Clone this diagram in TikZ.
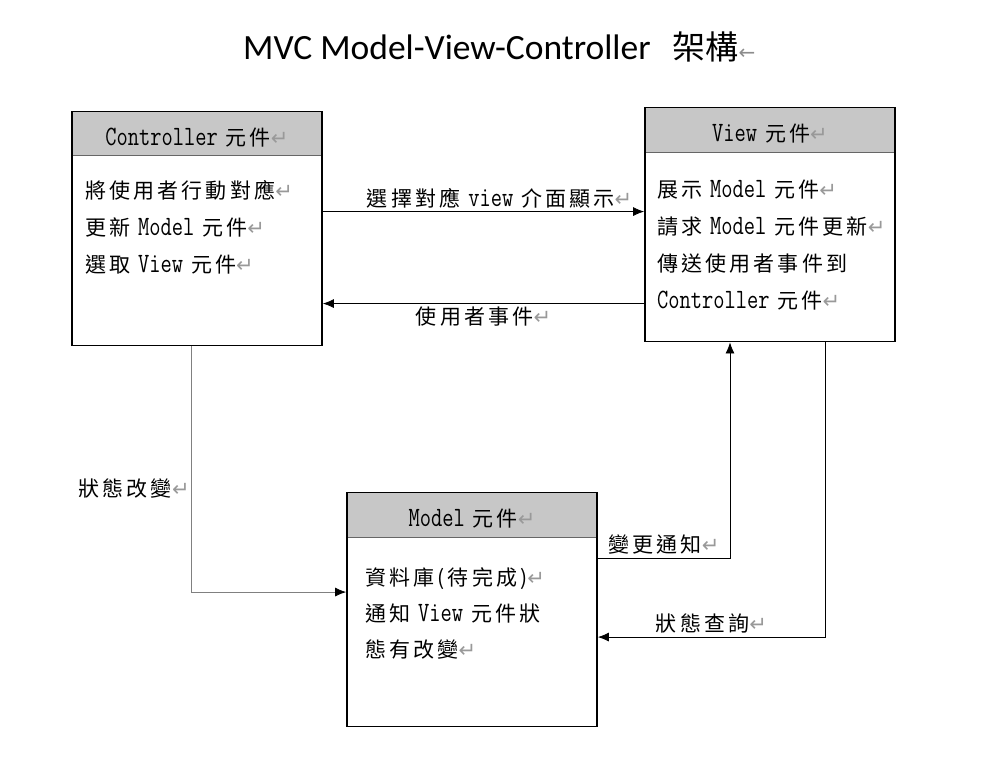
\documentclass[tikz,border=0pt]{standalone}
\usepackage{fontspec}
\setmainfont{Noto Sans CJK TC}[LetterSpace=15]
\newfontfamily\enfont{Latin Modern Mono}[FakeStretch=0.78]
\newfontfamily\symfont{DejaVu Sans}
\newfontfamily\titlefont{Carlito}
\newfontfamily\titlecjk{Noto Sans CJK TC}
\usetikzlibrary{arrows.meta,positioning}
\newcommand\en[1]{{\enfont\fontsize{28}{28}\selectfont #1}}
\newcommand\rmark{{\color{black!40}\symfont\fontsize{21}{21}\selectfont ↵}}
\tikzset{
	head/.style={fill=black!22, draw=black!60, line width=.6pt, minimum width=250pt, minimum height=44pt, inner sep=0pt, text height=26pt, text depth=2pt},
	box/.style={draw, line width=1.7pt, minimum width=250pt, minimum height=234pt, inner sep=0pt},
	txt/.style={anchor=base west, inner sep=0pt},
	lbl/.style={inner sep=3pt},
	arr/.style={-{Latex[length=11pt,width=9pt]}, line width=.8pt},
	garr/.style={-{Latex[length=11pt,width=9pt,color=black]}, line width=.8pt, draw=black!50}
}
\begin{document}
\begin{tikzpicture}[x=1pt, y=-1pt, font=\fontsize{21}{24}\selectfont]
		\useasboundingbox (0, 0) rectangle (981, 764);
		\node[anchor=base west, inner sep=0pt] (title) at (243, 59) {\titlefont\fontsize{35.5}{35.5}\selectfont MVC Model-View-Controller\hspace{22pt}\titlecjk\fontsize{33}{33}\selectfont 架構{\color{black!45}\symfont\fontsize{20}{20}\selectfont ←}};
		% the three parts
		\node[head] (ctrlh) at (197, 133) {\en{Controller} 元件\rmark};
		\node[box, below=0pt of ctrlh.north] (ctrl) {};
		\node[head, minimum height=45pt] (viewh) at (770, 129.5) {\en{View} 元件\rmark};
		\node[box, below=0pt of viewh.north] (view) {};
		\node[head, minimum height=45pt] (modelh) at (472, 514.5) {\en{Model} 元件\rmark};
		\node[box, below=0pt of modelh.north] (model) {};
		% texts in the boxes
		\foreach \t [count=\i] in {將使用者行動對應\rmark, 更新 \en{Model} 元件\rmark, 選取 \en{View} 元件\rmark}
			\node[txt] (ctrl-\i) at (85, 161+37*\i) {\t};
		\foreach \t [count=\i] in {展示 \en{Model} 元件\rmark, 請求 \en{Model} 元件更新\rmark, 傳送使用者事件到, \en{Controller} 元件\rmark}
			\node[txt] (view-\i) at (657, 160+37*\i) {\t};
		\foreach \t [count=\i] in {資料庫(待完成)\rmark, 通知 \en{View} 元件狀, 態有改變\rmark}
			\node[txt] (model-\i) at (365, 549+36*\i) {\t};
		% connectors
		\coordinate (sel) at ([yshift=17pt]ctrl.east);
		\coordinate (evt) at ([yshift=-79pt]view.west);
		\draw[arr] (sel) -- node[lbl, above, pos=.55] {選擇對應 \en{view} 介面顯示\rmark} (sel -| view.west);
		\draw[arr] (evt) -- node[lbl, below] {使用者事件\rmark} (evt -| ctrl.east);
		\draw[garr] ([xshift=-6pt]ctrl.south) |- node[lbl, left, pos=.29, inner sep=1pt] {狀態改變\rmark} ([yshift=17.5pt]model.west);
		\draw[arr] ([yshift=51.5pt]model.east) -| node[lbl, above, pos=.25] {變更通知\rmark} ([xshift=-40pt]view.south);
		\draw[arr] ([xshift=55pt]view.south) |- node[lbl, above, pos=.75] {狀態查詢\rmark} ([yshift=-27.5pt]model.east);
\end{tikzpicture}
\end{document}
